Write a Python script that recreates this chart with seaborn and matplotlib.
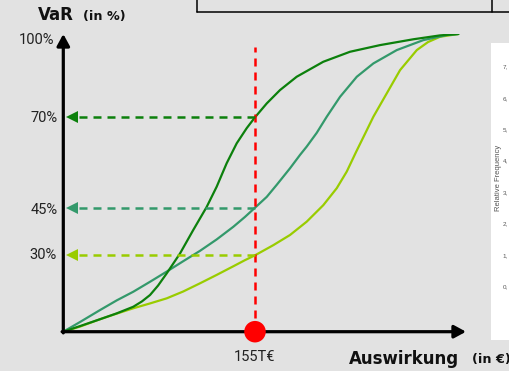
import numpy as np
import pandas as pd
import matplotlib
matplotlib.use("Agg")
import matplotlib.pyplot as plt
from matplotlib.lines import Line2D
from matplotlib.patches import Rectangle
import seaborn as sns

# Impact (T€) and Value-at-Risk (%) for the three loss curves
impact_dark = [0, 13.5, 29.7, 43.2, 56.6, 63.6, 70.1, 76.6, 83.6, 94.4, 105.1, 115.9,
               124.0, 132.1, 140.2, 148.3, 155, 164.5, 175.2, 188.7, 210.2, 231.8,
               256.1, 283.0, 304.6, 319.4]
var_dark = [0, 2.2, 4.9, 7.2, 9.8, 11.9, 14.4, 18.1, 22.9, 30.6, 38.0, 45.2,
            50.8, 57.3, 62.8, 67.0, 70, 75.0, 79.8, 84.6, 90.0, 93.6,
            96.0, 98.1, 99.5, 100]

impact_teal = [0, 13.5, 29.7, 43.2, 56.6, 70.1, 83.6, 97.0, 110.5, 124.0, 137.5, 146.9,
               155, 164.5, 172.5, 183.3, 191.4, 196.8, 204.9, 213.0, 223.8, 237.3,
               250.7, 269.6, 291.1, 310.0, 319.4]
var_teal = [0, 3.8, 8.5, 12.3, 15.7, 19.6, 23.6, 27.7, 31.4, 35.0, 39.0, 42.1,
            45, 48.0, 51.3, 55.9, 59.6, 61.9, 65.7, 70.2, 77.4, 84.6,
            89.4, 94.2, 97.8, 99.6, 100]

impact_lime = [0, 13.5, 29.7, 43.2, 56.6, 70.1, 83.6, 97.0, 110.5, 124.0, 137.5, 146.9,
               155, 169.8, 183.3, 196.8, 210.2, 221.1, 229.2, 236.7, 243.9, 250.7,
               261.5, 272.3, 285.8, 294.9, 304.6, 319.4]
var_lime = [0, 2.0, 4.9, 7.1, 9.2, 11.1, 13.1, 15.8, 19.0, 22.3, 25.7, 28.1,
            30, 33.2, 36.4, 40.6, 45.7, 50.4, 55.0, 60.4, 65.4, 70.2,
            78.6, 87.0, 94.2, 97.1, 99.0, 100]

curve_names = ["dark", "teal", "lime"]
threshold = 155
threshold_label = "155T€"
var_at_threshold = [70, 45, 30]
var_ticks = [100, 70, 45, 30]
var_tick_labels = ["100%", "70%", "45%", "30%"]
freq_ticks = ["7,", "6,", "5,", "4,", "3,", "2,", "1,", "0,"]

colors = {"dark": "#0c800c", "teal": "#33996b", "lime": "#99cc00"}
BG = "#e2e2e2"

sns.set_theme(style="white")
plt.rcParams["font.family"] = ["Roboto", "DejaVu Sans"]

W, H = 510, 371
fig = plt.figure(figsize=(W / 100, H / 100), dpi=100, facecolor=BG)

def fx(px):
    return px / W

def fy(py):
    return 1 - py / H

# main axes: origin at (63.3, 331.7) px, top of scale at 34 px
x0, y0, x1, y1 = 63.3, 331.7, 466.0, 34.0
ax = fig.add_axes([fx(x0), fy(y0), fx(x1) - fx(x0), fy(y1) - fy(y0)])
ax.set_facecolor("none")
for s in ax.spines.values():
    s.set_visible(False)

df = pd.concat([
    pd.DataFrame({"impact": impact_lime, "var": var_lime, "curve": "lime"}),
    pd.DataFrame({"impact": impact_teal, "var": var_teal, "curve": "teal"}),
    pd.DataFrame({"impact": impact_dark, "var": var_dark, "curve": "dark"}),
])
for name in ["lime", "teal", "dark"]:
    sns.lineplot(data=df[df.curve == name], x="impact", y="var", color=colors[name],
                 lw=1.6, sort=False, ax=ax, zorder=3,
                 solid_joinstyle="round", solid_capstyle="round")

# schematic (piecewise) VaR axis
knots_v = [0, 30, 45, 70, 100]
knots_f = [0, 0.2566, 0.4165, 0.7202, 1.0]
fwd = lambda v: np.interp(v, knots_v, knots_f)
inv = lambda f: np.interp(f, knots_f, knots_v)

ax.set_xlim(0, 325.6)
ax.set_ylim(0, 100)
ax.set_yscale("function", functions=(fwd, inv))
ax.set_xticks([])
ax.set_yticks([])
ax.set_xlabel("")
ax.set_ylabel("")

# threshold line and marker
ax.axvline(threshold, ymin=0.046, ymax=0.956, color="#ff0000", lw=1.8,
           ls=(0, (3.2, 2.4)), zorder=4)

# dashed read-off arrows towards the VaR axis
for name, v in zip(curve_names, var_at_threshold):
    ax.plot([threshold, 9.5], [v, v], color=colors[name], lw=1.8,
            ls=(0, (3.2, 2.4)), zorder=4, clip_on=False)
    ax.plot([7.0], [v], marker="<", ms=8, mew=0, color=colors[name],
            zorder=4, clip_on=False)

# axis arrows
arrow = dict(arrowstyle="-|>,head_length=0.7,head_width=0.38", color="black",
             lw=2.3, shrinkA=0, shrinkB=0, mutation_scale=10)
ax.annotate("", xy=(0, 1), xytext=(0, -0.004), xycoords="axes fraction",
            arrowprops=arrow, zorder=6, annotation_clip=False)
ax.annotate("", xy=(1, 0), xytext=(-0.003, 0), xycoords="axes fraction",
            arrowprops=arrow, zorder=6, annotation_clip=False)

sns.scatterplot(x=[threshold], y=[0], s=240, color="#ff0000", edgecolor="none",
                ax=ax, zorder=7, clip_on=False, legend=False)

# VaR tick labels
offsets = {100: (-6.5, -4.3), 70: (-4.0, -0.8), 45: (-4.0, -1.5), 30: (-4.7, 0)}
for v, lab in zip(var_ticks, var_tick_labels):
    dx, dy = offsets[v]
    ax.annotate(lab, xy=(0, v), xycoords=("axes fraction", "data"),
                xytext=(dx, dy), textcoords="offset points", ha="right",
                va="center", fontsize=10.5, color="#222222", annotation_clip=False)

ax.annotate(threshold_label, xy=(threshold, 0), xycoords="data", xytext=(0, -18),
            textcoords="offset points", ha="center", va="center",
            fontsize=10.5, color="#222222", annotation_clip=False)

# axis titles
bold = ["DejaVu Sans"]
fig.text(fx(38), fy(15), "VaR", fontsize=12, fontweight="bold", family=bold,
         ha="left", va="center", color="#111111")
fig.text(fx(83), fy(16.5), "(in %)", fontsize=9.2, fontweight="bold", family=bold,
         ha="left", va="center", color="#111111")
fig.text(fx(349), fy(358.5), "Auswirkung", fontsize=12, fontweight="bold",
         family=bold, ha="left", va="center", color="#111111")
fig.text(fx(472), fy(360), "(in €)", fontsize=9.2, fontweight="bold",
         family=bold, ha="left", va="center", color="#111111")

# framed box along the top edge
for xs, ys in [([197, 510], [11.7, 11.7]), ([197, 197], [0, 11.7]), ([492, 492], [0, 11.7])]:
    fig.add_artist(Line2D([fx(x) for x in xs], [fy(y) for y in ys],
                          color="black", lw=1.1))

# neighbouring frequency panel on the right
fig.add_artist(Rectangle((fx(491), fy(340)), fx(30), fy(43) - fy(340),
                         transform=fig.transFigure, facecolor="white",
                         edgecolor="none", zorder=1))
fig.text(fx(499), fy(178), "Relative Frequency", rotation=90, fontsize=5.5,
         family=["Liberation Sans"], ha="center", va="center", color="#555555",
         zorder=2)
for i, t in enumerate(freq_ticks):
    fig.text(fx(505.5), fy(67 + i * 31.4), t, fontsize=4.5, family=["Liberation Sans"],
             ha="center", va="center", color="#555555", zorder=2)

fig.savefig("out.png", dpi=100, facecolor=BG)
